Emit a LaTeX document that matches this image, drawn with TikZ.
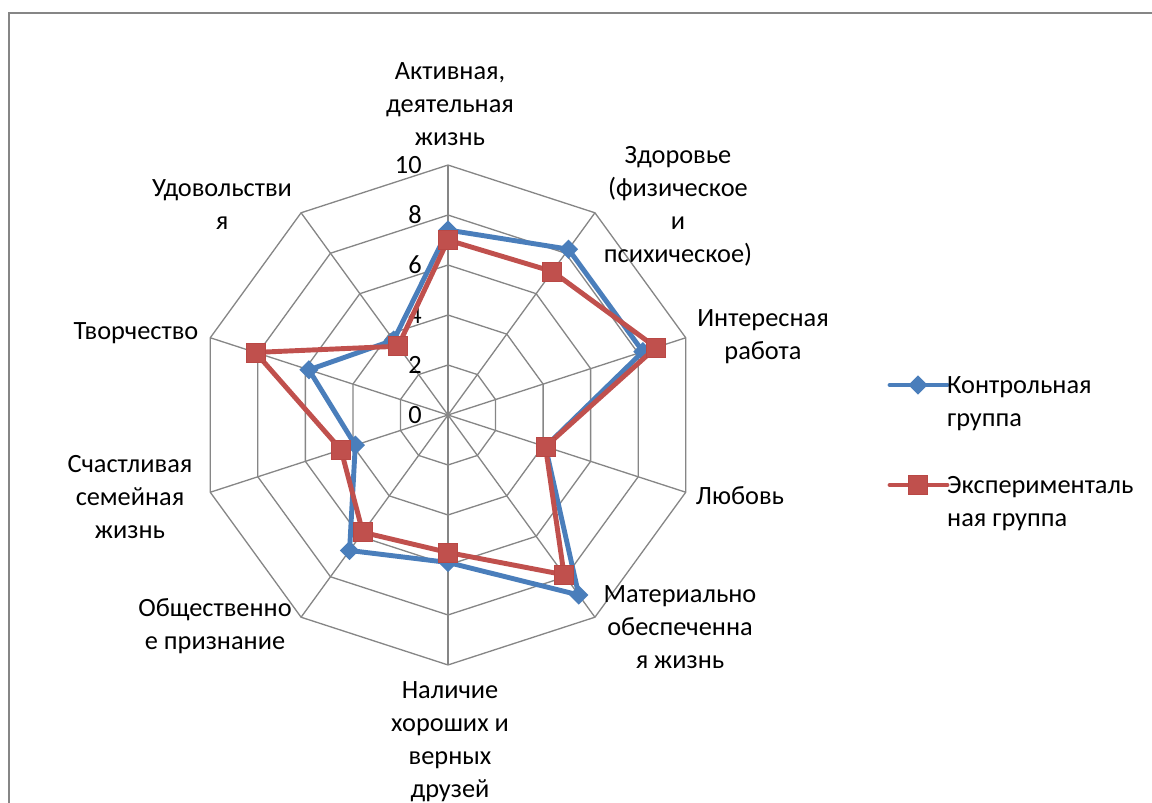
\documentclass[tikz,border=0pt]{standalone}
\usepackage{fontspec}
\setmainfont{Carlito}
\usetikzlibrary{shapes.geometric}

\definecolor{kontrol}{RGB}{74,126,187}
\definecolor{eksper}{RGB}{185,72,69}
\definecolor{eksperfill}{RGB}{192,80,77}
\definecolor{setka}{RGB}{134,134,134}

\tikzset{
	setkaline/.style={draw=setka, line width=0.75pt},
	ramka/.style={draw=setka, line width=1.1pt},
	kontrolline/.style={draw=kontrol, line width=2.8pt, line join=round},
	eksperline/.style={draw=eksperfill, line width=2.8pt, line join=round},
	kontrolmark/.style={diamond, fill=kontrol, inner sep=0pt, minimum size=0.39cm},
	ekspermark/.style={rectangle, fill=eksperfill, draw=eksper, line width=0.4pt, inner sep=0pt, minimum size=0.38cm},
	podpis/.style={align=center, font=\fontsize{15}{18.8}\selectfont},
	shkala/.style={font=\fontsize{15}{18.8}\selectfont, inner sep=0pt, anchor=east}
}

\begin{document}
\begin{tikzpicture}[x=0.02cm, y=-0.02cm]
	\useasboundingbox (0,0) rectangle (1152,803);
	\draw[ramka] (9,815) -- (9,13) -- (1165,13);

	\coordinate (O) at (448,415);
	\begin{scope}[shift={(O)}, x=0.5cm, y=0.5cm]
		\foreach \r in {2,4,...,10}
			\draw[setkaline] (90:\r) \foreach \k in {1,...,9} {-- (90-36*\k:\r)} -- cycle;
		\foreach \k in {0,...,9}
			\draw[setkaline] (0,0) -- (90-36*\k:10);
		\foreach \v in {0,2,...,10}
			\node[shkala] (sh\v) at (-1.04,\v) {\v};

		\foreach \v [count=\i] in {7.4,8.2,8.2,4.1,8.9,5.9,6.7,3.9,5.85,3.7}
			\coordinate (k\i) at ({90-36*(\i-1)}:\v);
		\foreach \v [count=\i] in {7.0,7.1,8.75,4.1,7.9,5.5,5.8,4.5,8.1,3.4}
			\coordinate (e\i) at ({90-36*(\i-1)}:\v);

		\draw[kontrolline] (k1) -- (k2) -- (k3) -- (k4) -- (k5) -- (k6) -- (k7) -- (k8) -- (k9) -- (k10) -- cycle;
		\foreach \i in {1,...,10}
			\node[kontrolmark] (km\i) at (k\i) {};
		\draw[eksperline] (e1) -- (e2) -- (e3) -- (e4) -- (e5) -- (e6) -- (e7) -- (e8) -- (e9) -- (e10) -- cycle;
		\foreach \i in {1,...,10}
			\node[ekspermark] (em\i) at (e\i) {};
	\end{scope}

	\node[podpis] (akt) at (450,104) {Активная,\\деятельная\\жизнь};
	\node[podpis] (zdor) at (678,206) {Здоровье\\(физическое\\и\\психическое)};
	\node[podpis] (inter) at (763,337) {Интересная\\работа};
	\node[podpis] (lyub) at (740,496) {Любовь};
	\node[podpis] (mat) at (680,627) {Материально\\обеспеченна\\я жизнь};
	\node[podpis] (nal) at (450,742) {Наличие\\хороших и\\верных\\друзей};
	\node[podpis] (obsch) at (215,626) {Общественно\\е признание};
	\node[podpis] (schast) at (130,497) {Счастливая\\семейная\\жизнь};
	\node[podpis] (tvor) at (136,333) {Творчество};
	\node[podpis] (udov) at (222,205) {Удовольстви\\я};

	\coordinate (lk1) at (890,385);
	\coordinate (lk2) at (947,385);
	\draw[kontrolline, line cap=round] (lk1) -- (lk2);
	\node[kontrolmark] (lkm) at (918,385) {};
	\node[podpis, align=left, anchor=west] (lkt) at (941,404) {Контрольная\\группа};

	\coordinate (le1) at (890,485);
	\coordinate (le2) at (947,485);
	\draw[eksperline, line cap=round] (le1) -- (le2);
	\node[ekspermark] (lem) at (918,485) {};
	\node[podpis, align=left, anchor=west] (let) at (941,504) {Эксперименталь\\ная группа};
\end{tikzpicture}
\end{document}
